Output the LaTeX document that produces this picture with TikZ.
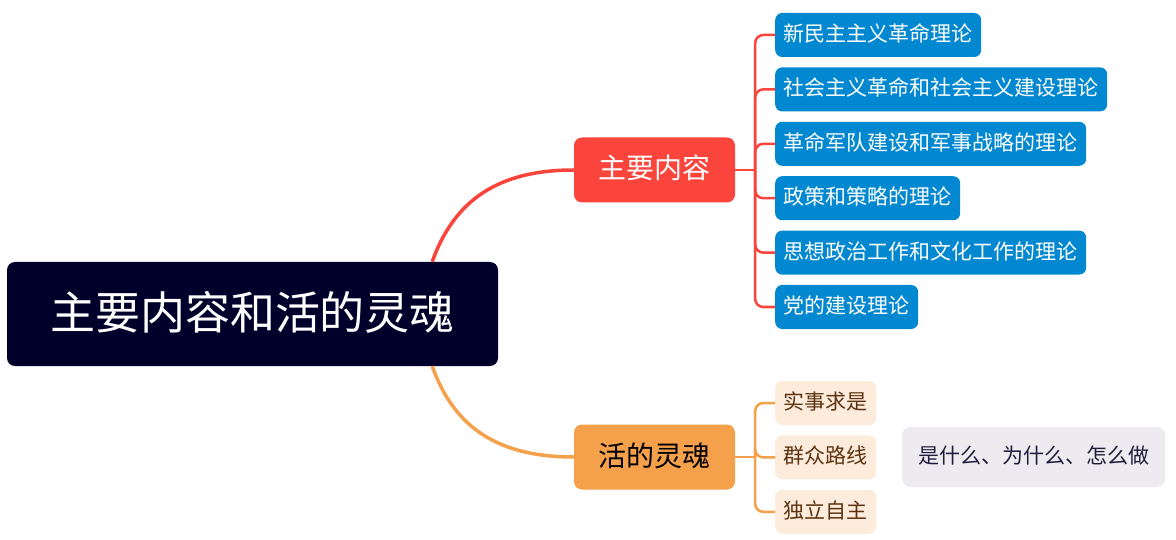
\documentclass[tikz,border=0pt]{standalone}
\usepackage{fontspec}
\setmainfont{Noto Sans CJK SC}
\usetikzlibrary{positioning,calc}
\definecolor{rootbg}{HTML}{00002A}
\definecolor{redbr}{HTML}{FA443C}
\definecolor{orangebr}{HTML}{F5A04B}
\definecolor{bluebox}{HTML}{0288D1}
\definecolor{peach}{HTML}{FDEBDC}
\definecolor{brownt}{HTML}{5C3310}
\definecolor{greybox}{HTML}{EDEBEF}
\definecolor{navyt}{HTML}{1E1E3C}
\begin{document}
\begin{tikzpicture}[x=1pt, y=-1pt, node distance=10pt,
  leaf/.style={rounded corners=7pt, inner xsep=8.5pt, minimum height=44pt, text height=17pt, text depth=4pt, font=\fontsize{21}{25}\selectfont},
  theory/.style={leaf, fill=bluebox, text=white},
  soul/.style={leaf, fill=peach, text=brownt},
  branch/.style={rounded corners=8pt, minimum width=161pt, minimum height=65pt, text height=23pt, text depth=5pt, font=\fontsize{28}{32}\selectfont},
  link/.style={line width=2.5pt, rounded corners=8pt}]
\useasboundingbox (0,0) rectangle (1176,540);
\node[fill=rootbg, text=white, rounded corners=8pt, minimum width=491pt, minimum height=104pt, text height=37pt, text depth=7pt, font=\fontsize{45}{50}\selectfont] (root) at (252.5,314) {主要内容和活的灵魂};
\node[branch, fill=redbr, text=white] (content) at (654.5,170) {主要内容};
\node[branch, fill=orangebr, text=black] (living) at (654.5,457) {活的灵魂};
\node[theory, anchor=west] (T1) at (775,35) {新民主主义革命理论};
\node[theory, below=of T1.south west, anchor=north west] (T2) {社会主义革命和社会主义建设理论};
\node[theory, below=of T2.south west, anchor=north west] (T3) {革命军队建设和军事战略的理论};
\node[theory, below=of T3.south west, anchor=north west] (T4) {政策和策略的理论};
\node[theory, below=of T4.south west, anchor=north west] (T5) {思想政治工作和文化工作的理论};
\node[theory, below=of T5.south west, anchor=north west] (T6) {党的建设理论};
\node[soul, anchor=west] (S1) at (775,403) {实事求是};
\node[soul, below=of S1.south west, anchor=north west] (S2) {群众路线};
\node[soul, below=of S2.south west, anchor=north west] (S3) {独立自主};
\node[fill=greybox, text=navyt, rounded corners=8pt, inner xsep=16pt, minimum height=60pt, text height=17pt, text depth=4pt, font=\fontsize{21}{25}\selectfont, anchor=west] (why) at (902,457) {是什么、为什么、怎么做};
\coordinate (rtop) at ([xshift=-66pt]root.north east);
\coordinate (rbot) at ([xshift=-66pt]root.south east);
\coordinate (cj) at ([xshift=20pt]content.east);
\coordinate (lj) at ([xshift=20pt]living.east);
\draw[redbr, line width=3.5pt] (rtop) .. controls +(22,-62) and +(-75,0) .. (content.west);
\draw[orangebr, line width=3.5pt] (rbot) .. controls +(22,62) and +(-75,0) .. (living.west);
\draw[redbr, link] (content.east) -- (cj);
\foreach \t in {T1,T2,T3,T4,T5,T6}
  \draw[redbr, link] (cj) |- (\t.west);
\draw[orangebr, link] (living.east) -- (lj);
\foreach \s in {S1,S2,S3}
  \draw[orangebr, link] (lj) |- (\s.west);
\end{tikzpicture}
\end{document}
